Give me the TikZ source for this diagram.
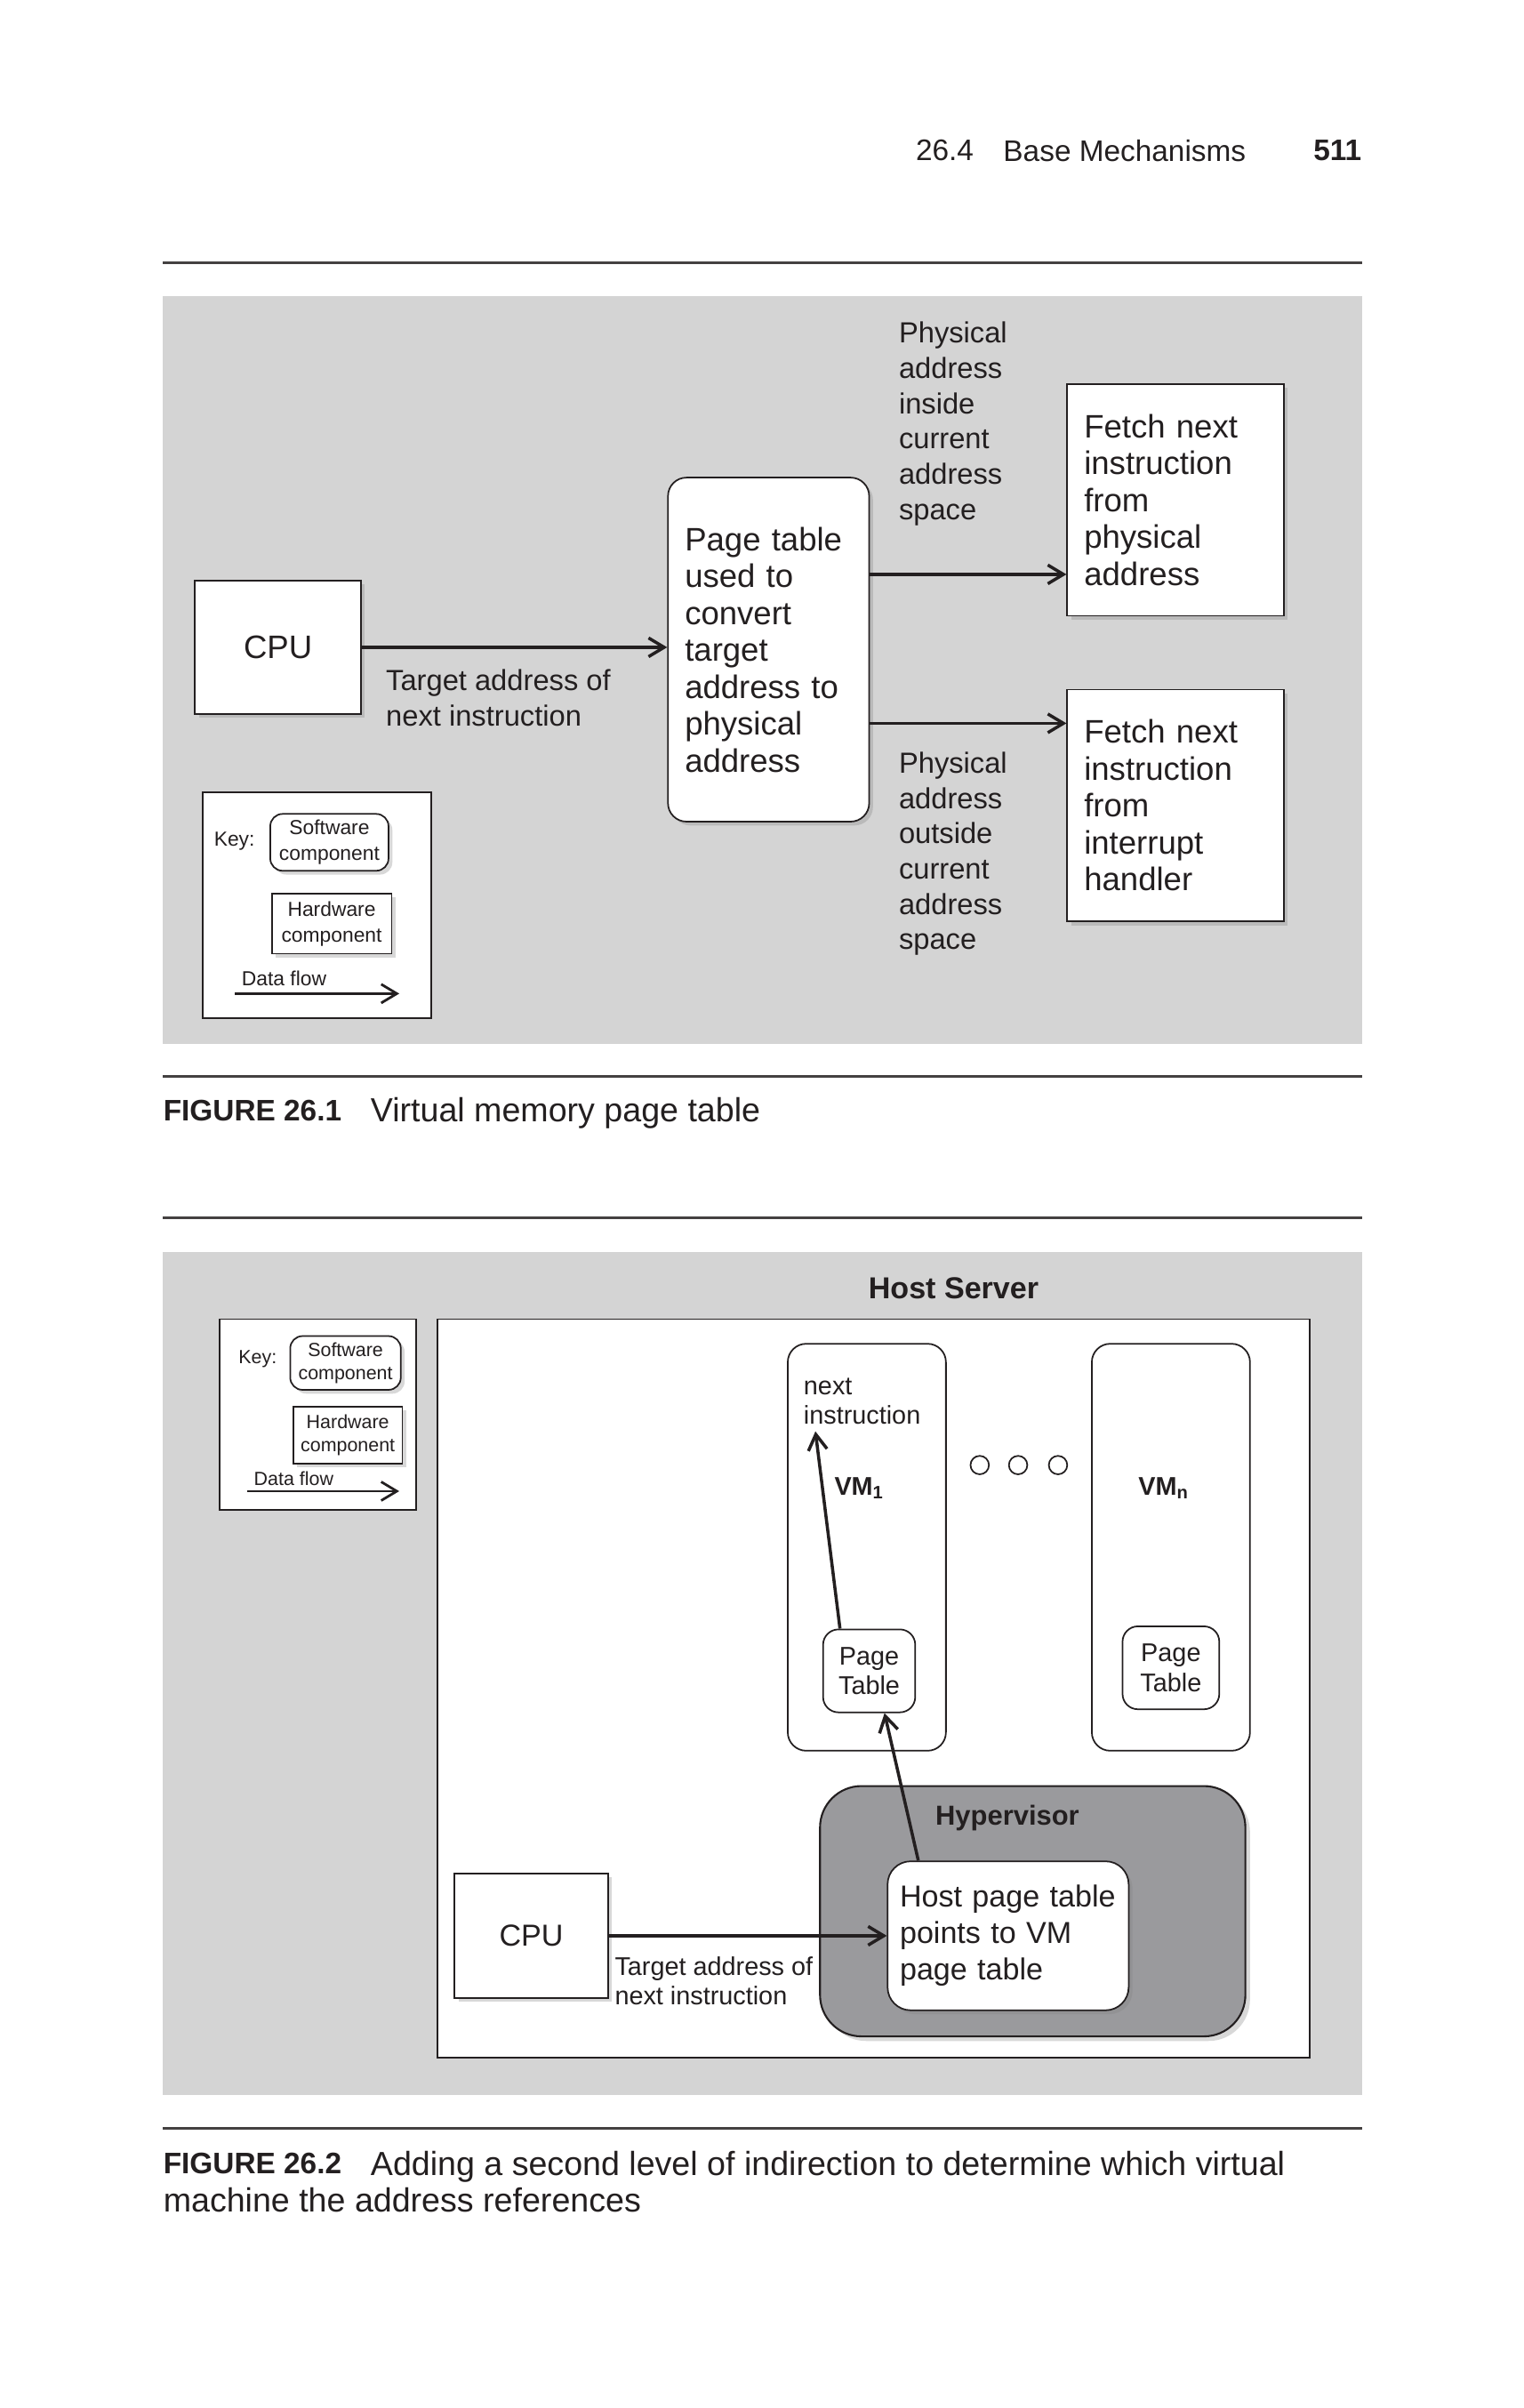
\documentclass[tikz,border=0pt]{standalone}
\RequirePackage{fontspec}
\RequirePackage{tikz}
\setmainfont{Liberation Sans}
\usetikzlibrary{arrows.meta,shadows}

\definecolor{panelgray}{RGB}{212,212,212}
\definecolor{hypgray}{RGB}{154,154,157}
\definecolor{ink}{RGB}{35,31,32}

\newlength\px
\setlength\px{0.01727cm}

\newcommand\headtxt{\fontsize{9.5pt}{11pt}\selectfont}
\newcommand\boxtxt{\fontsize{10.4pt}{11.8pt}\selectfont}
\newcommand\labtxt{\fontsize{9.3pt}{11.3pt}\selectfont}
\newcommand\keytxt{\fontsize{6.5pt}{8.3pt}\selectfont}
\newcommand\keytxtb{\fontsize{6.1pt}{7.4pt}\selectfont}
\newcommand\captxt{\fontsize{10.7pt}{11.7pt}\selectfont}
\newcommand\capbold{\fontsize{9.5pt}{11.7pt}\selectfont\bfseries}
\newcommand\hosttxt{\fontsize{9.7pt}{11.7pt}\selectfont}
\newcommand\vmtxt{\fontsize{8.2pt}{9.5pt}\selectfont}

\tikzset{
    hwbox/.style={draw=ink, line width=0.5pt, fill=white, inner sep=0pt, align=left, text=ink,
        drop shadow={shadow xshift=2.5\px, shadow yshift=-2.5\px, opacity=0.3}},
    swbox/.style={hwbox, rounded corners=12\px},
    ptbox/.style={draw=ink, line width=0.5pt, fill=white, inner sep=0pt, align=center,
        text=ink, rounded corners=10\px},
    flow/.style={draw=ink, line width=1pt, -{Straight Barb[length=5pt,width=6pt]}},
    lab/.style={inner sep=0pt, align=left, text=ink},
    rule/.style={draw=ink!85, line width=1pt}
}

\begin{document}
\begin{tikzpicture}[x=\px, y=-\px]
                \useasboundingbox (0,0) rectangle (991.9,1568);
                \fill[white] (0,0) rectangle (991.9,1568);

                \node[lab, anchor=west, font=\headtxt] (secno) at (596,98) {26.4};
                \node[lab, anchor=west, font=\headtxt] (sectitle) at (653,98) {Base Mechanisms};
                \node[lab, anchor=east, font=\headtxt\bfseries] (pageno) at (887,98) {511};

                \draw[rule] (106,171) -- (887,171);
                \fill[panelgray] (106,193) rectangle (887,680);

                \node[hwbox, minimum width=108\px, minimum height=87\px, font=\boxtxt] (cpuA) at (181,421.5) {CPU};
                \node[swbox, minimum width=131\px, minimum height=224\px, text width=109\px,
                    inner xsep=11\px, font=\boxtxt] (ptA) at (500.5,423)
                    {Page table\\used to\\convert\\target\\address to\\physical\\address};
                \node[hwbox, minimum width=141\px, minimum height=151\px, text width=119\px,
                    inner xsep=11\px, font=\boxtxt] (fetchA) at (765.5,325.5)
                    {Fetch next\\instruction\\from\\physical\\address};
                \node[hwbox, minimum width=141\px, minimum height=151\px, text width=119\px,
                    inner xsep=11\px, font=\boxtxt] (fetchB) at (765.5,524.5)
                    {Fetch next\\instruction\\from\\interrupt\\handler};

                \node[lab, anchor=west, font=\labtxt] (tgtA) at (251,454.5) {Target address of\\next instruction};
                \node[lab, anchor=west, font=\labtxt] (insideA) at (585,276) {Physical\\address\\inside\\current\\address\\space};
                \node[lab, anchor=west, font=\labtxt] (outsideA) at (585,556) {Physical\\address\\outside\\current\\address\\space};

                \draw[flow] (cpuA.east) -- (cpuA.east -| ptA.west);
                \draw[flow] ([yshift=49\px]ptA.east) coordinate (inA) -- (inA -| fetchA.west);
                \draw[flow] ([yshift=-48\px]ptA.east) coordinate (outA) -- (outA -| fetchB.west);

                \node[draw=ink, line width=0.5pt, fill=white, minimum width=149\px, minimum height=147\px,
                    inner sep=0pt] (keyA) at (206.5,589.5) {};
                \node[lab, anchor=west, font=\keytxt] (keyAt) at (139,548) {Key:};
                \node[swbox, rounded corners=8\px, align=center, minimum width=77\px, minimum height=37\px,
                    font=\keytxt] (swA) at (214.5,548.5) {Software\\component};
                \node[hwbox, align=center, minimum width=78\px, minimum height=39\px,
                    font=\keytxt] (hwA) at (216,601.5) {Hardware\\component};
                \node[lab, anchor=west, font=\keytxt] (dfA) at (157,637) {Data flow};
                \coordinate (dfA1) at (153,647);
                \coordinate (dfA2) at (260,647);
                \draw[flow, line width=0.8pt] (dfA1) -- (dfA2);

                \draw[rule] (106,701) -- (887,701);
                \node[lab, anchor=west, font=\capbold] (figA) at (106,723) {FIGURE 26.1};
                \node[lab, anchor=base west, font=\captxt] (capA) at (241,730.5) {Virtual memory page table};

                \draw[rule] (106,793) -- (887,793);
                \fill[panelgray] (106,815) rectangle (887,1364);
                \node[lab, font=\hosttxt\bfseries] (hostt) at (621,839) {Host Server};
                \node[draw=ink, line width=0.5pt, fill=white, minimum width=568\px, minimum height=481\px,
                    inner sep=0pt] (host) at (569,1099.5) {};

                \node[draw=ink, line width=0.5pt, fill=white, minimum width=128\px, minimum height=124\px,
                    inner sep=0pt] (keyB) at (207,921) {};
                \node[lab, anchor=west, font=\keytxtb] (keyBt) at (155,885) {Key:};
                \node[swbox, rounded corners=8\px, align=center, minimum width=72\px, minimum height=35\px,
                    font=\keytxtb] (swB) at (225,887.5) {Software\\component};
                \node[hwbox, align=center, minimum width=71\px, minimum height=37\px,
                    font=\keytxtb] (hwB) at (226.5,934.5) {Hardware\\component};
                \node[lab, anchor=west, font=\keytxtb] (dfB) at (165,963) {Data flow};
                \coordinate (dfB1) at (161,971);
                \coordinate (dfB2) at (260,971);
                \draw[flow, line width=0.8pt] (dfB1) -- (dfB2);

                \node[ptbox, rounded corners=12\px, minimum width=103\px, minimum height=265\px] (vmA) at (564.5,1007.5) {};
                \node[ptbox, rounded corners=12\px, minimum width=103\px, minimum height=265\px] (vmN) at (762.5,1007.5) {};
                \node[lab, anchor=west, font=\vmtxt] (nxt) at (523,912.5) {next\\instruction};
                \node[lab, anchor=west, font=\vmtxt\bfseries] (vmAt) at (543,969) {VM\textsubscript{1}};
                \node[lab, anchor=west, font=\vmtxt\bfseries] (vmNt) at (741,969) {VM\textsubscript{n}};
                \node[ptbox, minimum width=60\px, minimum height=54\px, font=\vmtxt] (ptB) at (566,1088) {Page\\Table};
                \node[ptbox, minimum width=63\px, minimum height=54\px, font=\vmtxt] (ptN) at (762.5,1086) {Page\\Table};
                \foreach \cx in {638,663,689}
                    \draw[ink, line width=0.5pt] (\cx,954) circle[radius=6\px];

                \node[draw=ink, line width=0.6pt, fill=hypgray, rounded corners=27\px, minimum width=277\px,
                    minimum height=163\px, drop shadow={shadow xshift=3\px, shadow yshift=-3\px, opacity=0.3}] (hyp) at (672.5,1244.5) {};
                \node[lab, font=\fontsize{8.8pt}{10pt}\selectfont\bfseries] (hypt) at (656,1184) {Hypervisor};
                \node[swbox, rounded corners=15\px, minimum width=157\px, minimum height=97\px, text width=141\px,
                    inner xsep=8\px, font=\hosttxt] (hpt) at (656.5,1260.5) {Host page table\\points to VM\\page table};
                \node[hwbox, minimum width=100\px, minimum height=81\px, font=\hosttxt] (cpuB) at (346,1260.5) {CPU};
                \node[lab, anchor=west, font=\vmtxt] (tgtB) at (400,1290) {Target address of\\next instruction};

                \draw[flow] (cpuB.east) -- (cpuB.east -| hpt.west);
                \draw[flow] ([xshift=-58.5\px]hpt.north) -- ([xshift=10\px]ptB.south);
                \draw[flow] ([xshift=-19\px]ptB.north) -- ([xshift=8\px,yshift=-4\px]nxt.south west);

                \draw[rule] (106,1386) -- (887,1386);
                \node[lab, anchor=west, font=\capbold] (figB) at (106,1409) {FIGURE 26.2};
                \node[lab, anchor=base west, font=\captxt] (capB) at (241,1416.5) {Adding a second level of indirection to determine which virtual};
                \node[lab, anchor=base west, font=\captxt] (capB2) at (106,1440.5) {machine the address references};
\end{tikzpicture}
\end{document}
